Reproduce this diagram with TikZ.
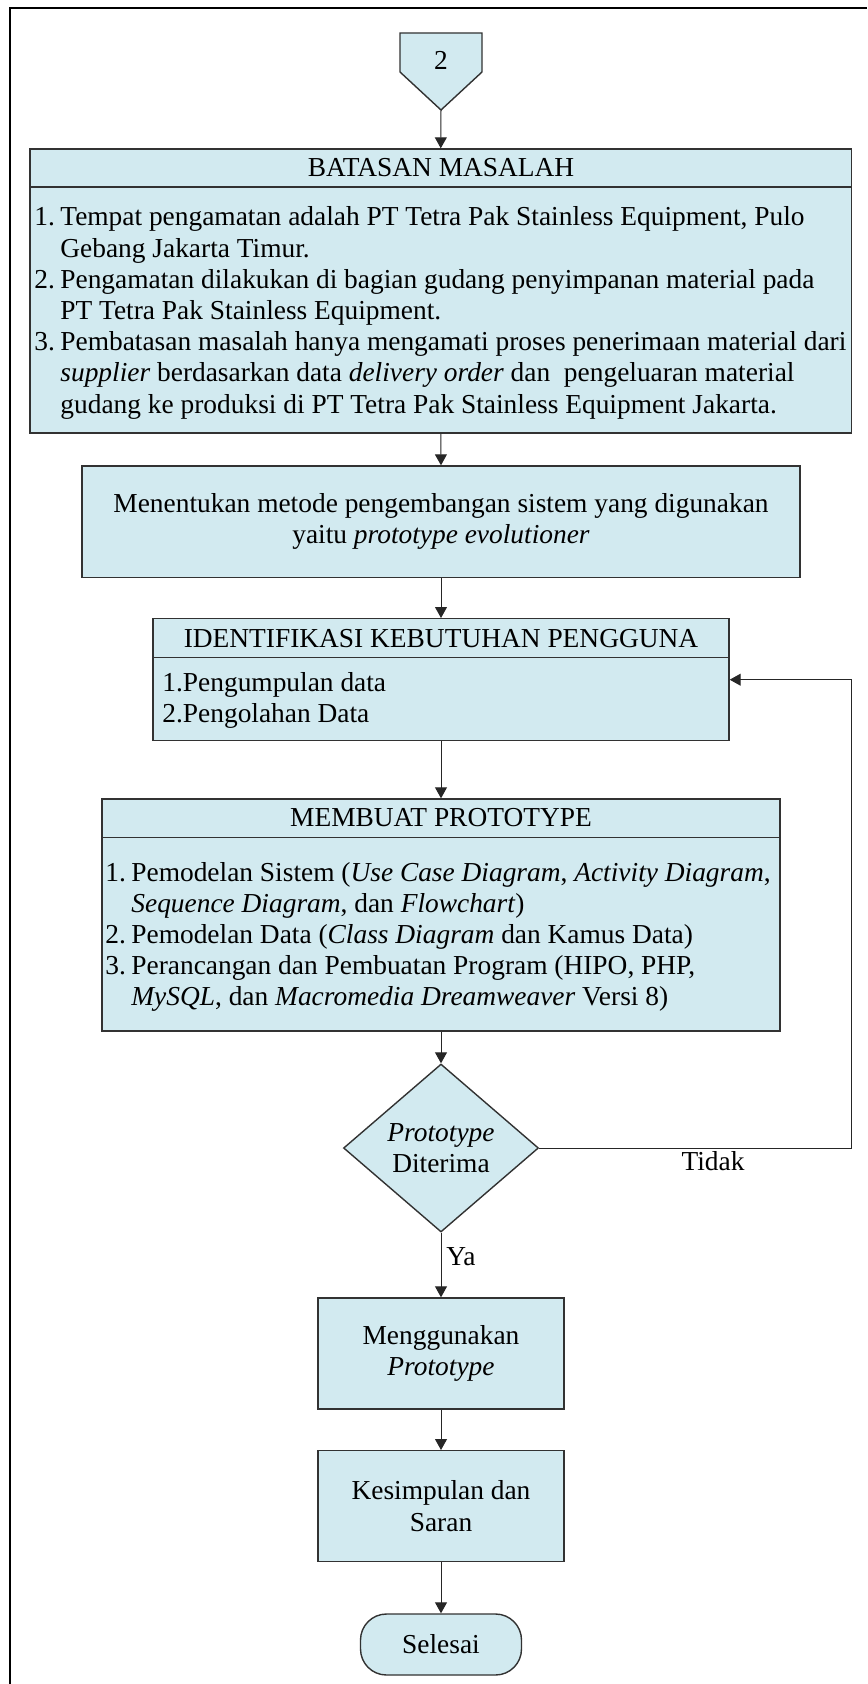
\documentclass[tikz,border=0pt]{standalone}
\usepackage{fontspec}
\setmainfont{Liberation Serif}
\usetikzlibrary{arrows.meta,shapes.geometric}
\definecolor{boxfill}{RGB}{210,234,240}
\definecolor{edgecol}{RGB}{50,50,50}
\newcommand{\itemlab}[1]{\makebox[13pt][l]{#1}}
\newcommand{\contind}{\hspace*{13pt}}
\begin{document}
\begin{tikzpicture}[x=0.5pt,y=-0.5pt,
  every node/.style={font={\fontsize{13.7pt}{15.6pt}\selectfont}},
  box/.style={draw=edgecol, line width=0.7pt, fill=boxfill, rectangle, inner sep=0pt, align=center},
  divline/.style={draw=edgecol, line width=0.7pt},
  arr/.style={draw=black!85, line width=0.5pt, -{Triangle[length=5.5pt,width=6pt]}},
  lbl/.style={inner sep=0pt, align=left, anchor=base west},
  ttl/.style={inner sep=0pt, anchor=base},
]
\useasboundingbox (0,0) rectangle (867,1684);
\draw[line width=1pt] (10,1684) -- (10,8) -- (867,8);

% off-page connector
\draw[box] (400,33) -- (482,33) -- (482,72) -- (441,110) -- (400,72) -- cycle;
\node[ttl] (c2) at (441,70) {2};
\coordinate (c2tip) at (441,110);

% BATASAN MASALAH
\node[box, minimum width=410.75pt, minimum height=142pt] (bm) at (440.75,291) {};
\draw[divline] (bm.west |- 0,187) -- (bm.east |- 0,187);
\node[ttl] (bmt) at (441,176.7) {BATASAN MASALAH};
\node[lbl] (bmx) at (34,413.2) {\itemlab{1.}Tempat pengamatan adalah PT Tetra Pak Stainless Equipment, Pulo\\
\contind Gebang Jakarta Timur.\\
\itemlab{2.}Pengamatan dilakukan di bagian gudang penyimpanan material pada\\
\contind PT Tetra Pak Stainless Equipment.\\
\itemlab{3.}Pembatasan masalah hanya mengamati proses penerimaan material dari\\
\contind\textit{supplier} berdasarkan data \textit{delivery order} dan\ \ pengeluaran material\\
\contind gudang ke produksi di PT Tetra Pak Stainless Equipment Jakarta.};

% metode
\node[box, minimum width=359pt, minimum height=55.65pt] (b2) at (441,521.65)
  {Menentukan metode pengembangan sistem yang digunakan\\ yaitu \textit{prototype evolutioner}};

% identifikasi
\node[box, minimum width=288pt, minimum height=61pt] (b3) at (441,679.7) {};
\draw[divline] (b3.west |- 0,657.3) -- (b3.east |- 0,657.3);
\node[ttl] (b3t) at (441,647) {IDENTIFIKASI KEBUTUHAN PENGGUNA};
\node[lbl] (b3x) at (162,722.2) {1.Pengumpulan data\\2.Pengolahan Data};

% membuat prototype
\node[box, minimum width=339pt, minimum height=116pt] (b4) at (441,915) {};
\draw[divline] (b4.west |- 0,837.3) -- (b4.east |- 0,837.3);
\node[ttl] (b4t) at (441,826) {MEMBUAT PROTOTYPE};
\node[lbl] (b4x) at (105,1005.8) {\itemlab{1.}Pemodelan Sistem (\textit{Use Case Diagram}, \textit{Activity Diagram},\\
\contind\textit{Sequence Diagram}, dan \textit{Flowchart})\\
\itemlab{2.}Pemodelan Data (\textit{Class Diagram} dan Kamus Data)\\
\itemlab{3.}Perancangan dan Pembuatan Program (HIPO, PHP,\\
\contind\textit{MySQL}, dan \textit{Macromedia Dreamweaver} Versi 8)};

% decision
\node[box, diamond, minimum width=97.5pt, minimum height=84pt] (dia) at (441,1148)
  {\textit{Prototype}\\Diterima};

% end boxes
\node[box, minimum width=123pt, minimum height=55.5pt] (b5) at (441,1353.5) {Menggunakan\\\textit{Prototype}};
\node[box, minimum width=123pt, minimum height=55.5pt] (b6) at (441,1506.2) {Kesimpulan dan\\Saran};
\node[box, minimum width=80.5pt, minimum height=30.5pt, rounded corners=13pt] (sel) at (441,1644.5) {Selesai};

% labels
\node[ttl] (tidak) at (713,1170) {Tidak};
\node[ttl] (ya) at (461,1265) {Ya};

% connectors
\draw[arr] (c2tip) -- (bm.north);
\draw[arr] (bm.south) -- (b2.north);
\draw[arr] (b2.south) -- (b3.north);
\draw[arr] (b3.south) -- (b4.north);
\draw[arr] (b4.south) -- (dia.north);
\draw[arr] (dia.south) -- (b5.north);
\draw[arr] (b5.south) -- (b6.north);
\draw[arr] (b6.south) -- (sel.north);
\coordinate (rt) at (851.5,0);
\draw[arr] (dia.east) -- (dia.east -| rt) -- (b3.east -| rt) -- (b3.east);
\end{tikzpicture}
\end{document}
